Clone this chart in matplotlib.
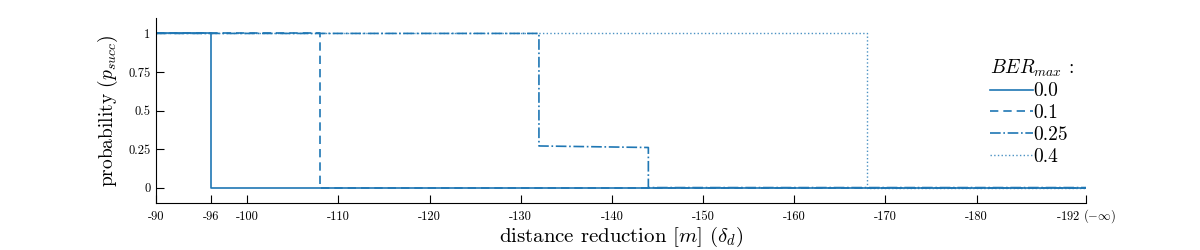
import matplotlib.pyplot as plt

plt.rcParams['font.family'] = 'serif'
plt.rcParams['font.serif'] = ['cmr10']
plt.rcParams['mathtext.fontset'] = 'cm'
plt.rcParams['axes.unicode_minus'] = False

# step curves: distance reduction -> success probability
x_00 = [-90, -96, -96, -192]
p_00 = [1, 1, 0, 0]
x_01 = [-90, -108, -108, -192]
p_01 = [1, 1, 0, 0]
x_025 = [-90, -132, -132, -144, -144, -192]
p_025 = [1, 1, 0.27, 0.26, 0, 0]
x_04 = [-90, -168, -168, -192]
p_04 = [1, 1, 0, 0]

xticks = [-90, -96, -100, -110, -120, -130, -140, -150, -160, -170, -180, -192]
xticklabels = ['-90', '-96', '-100', '-110', '-120', '-130', '-140', '-150',
               '-160', '-170', '-180', r'-192 ($-\infty$)']
yticks = [0, 0.25, 0.5, 0.75, 1]
yticklabels = ['0', '0.25', '0.5', '0.75', '1']

c = '#1f77b4'
fig = plt.figure(figsize=(12, 2.5), dpi=100)
ax = fig.add_axes([0.13, 0.188, 0.775, 0.74])
ax.plot(x_00, p_00, '-', color=c, lw=1.2, label='0.0')
ax.plot(x_01, p_01, '--', color=c, lw=1.2, label='0.1', dashes=(5, 3))
ax.plot(x_025, p_025, '-.', color=c, lw=1.2, label='0.25')
ax.plot(x_04, p_04, ':', color=c, lw=1.0, alpha=0.8, label='0.4')

ax.set_xlim(-90, -192)
ax.set_ylim(-0.1, 1.1)
ax.set_xticks(xticks)
ax.set_xticklabels(xticklabels, fontsize=9)
ax.set_yticks(yticks)
ax.set_yticklabels(yticklabels, fontsize=9)
ax.tick_params(direction='in', length=6, width=0.8, pad=4)
ax.tick_params(axis='x', pad=12)
for lab in ax.get_xticklabels():
    lab.set_verticalalignment('baseline')
for s in ['top', 'right']:
    ax.spines[s].set_visible(False)

ax.set_xlabel(r'distance reduction [$m$] ($\delta_d$)', fontsize=15, labelpad=0)
ax.set_ylabel(r'probability ($p_{succ}$)', fontsize=14, labelpad=6)

leg = ax.legend(title=r'$BER_{max}$ :', frameon=False, fontsize=14,
                title_fontsize=14, loc='upper right',
                bbox_to_anchor=(0.996, 0.83), handlelength=2.2,
                handletextpad=0.0, labelspacing=0.2, borderaxespad=0)
leg._legend_box.align = 'left'

fig.savefig('out.png')
